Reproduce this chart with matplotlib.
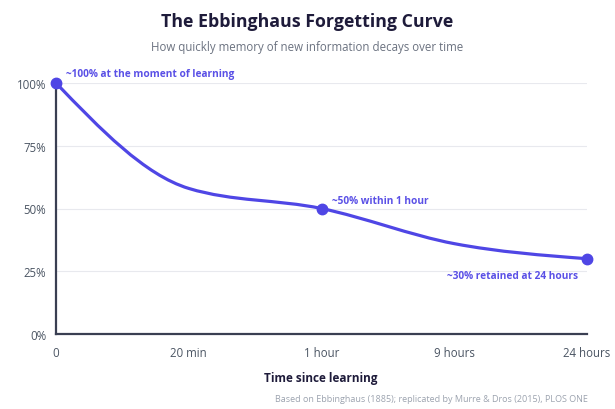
import matplotlib
matplotlib.use("Agg")
import matplotlib.pyplot as plt
import numpy as np
from matplotlib.path import Path
from matplotlib.patches import PathPatch

# data (retention %)
time_labels = ["0", "20 min", "1 hour", "9 hours", "24 hours"]
retention = [100, 58, 50, 36, 30]
marked = [0, 2, 4]  # points with a dot
notes = [
    (0, "~100% at the moment of learning", (10, 9), "left"),
    (2, "~50% within 1 hour", (10, 8), "left"),
    (4, "~30% retained at 24 hours", (-9, -17), "right"),
]

LINE = "#4f46e5"
NOTE = "#5a50e6"
DARK = "#1e1b3a"
GRAY = "#6b7280"
TICK = "#4b5563"
SPINE = "#3a3f52"


def monotone_path(x, y):
    # cubic bezier segments, monotone in x (same idea as d3 curveMonotoneX)
    x = np.asarray(x, float); y = np.asarray(y, float)
    n = len(x)
    h = np.diff(x); s = np.diff(y) / h
    t = np.zeros(n)
    for i in range(1, n - 1):
        p = (s[i - 1] * h[i] + s[i] * h[i - 1]) / (h[i - 1] + h[i])
        t[i] = (np.sign(s[i - 1]) + np.sign(s[i])) * min(abs(s[i - 1]), abs(s[i]), 0.5 * abs(p))
    t[0] = (3 * s[0] - t[1]) / 2
    t[-1] = (3 * s[-1] - t[-2]) / 2
    verts = [(x[0], y[0])]; codes = [Path.MOVETO]
    for i in range(n - 1):
        d = h[i] / 3
        verts += [(x[i] + d, y[i] + t[i] * d), (x[i + 1] - d, y[i + 1] - t[i + 1] * d), (x[i + 1], y[i + 1])]
        codes += [Path.CURVE4] * 3
    return Path(verts, codes)


plt.rcParams["font.family"] = ["Open Sans", "DejaVu Sans"]

fig = plt.figure(figsize=(6.15, 4.1), dpi=100)
fig.patch.set_facecolor("white")
ax = fig.add_axes([56 / 615, 75 / 410, 531 / 615, 251 / 410])

xs = np.arange(len(time_labels))
ax.add_patch(PathPatch(monotone_path(xs, retention), fill=False, ec=LINE, lw=2.3,
                       capstyle="round", joinstyle="round", zorder=3, clip_on=False))
ax.plot(xs[marked], np.array(retention)[marked], "o", color=LINE, ms=7.5, zorder=4, clip_on=False)

for i, txt, off, ha in notes:
    ax.annotate(txt, xy=(xs[i], retention[i]), xytext=off, textcoords="offset pixels",
                ha=ha, va="center", fontsize=7.3, fontweight="bold", color=NOTE)

ax.set_xlim(0, len(time_labels) - 1)
ax.set_ylim(0, 100)
ax.set_xticks(xs); ax.set_xticklabels(time_labels)
ax.set_yticks([0, 25, 50, 75, 100]); ax.set_yticklabels([f"{v}%" for v in [0, 25, 50, 75, 100]])
ax.tick_params(axis="x", length=0, pad=9, labelsize=8.3, labelcolor=TICK)
ax.tick_params(axis="y", length=0, pad=7, labelsize=8.3, labelcolor=TICK)
ax.grid(axis="y", color="#e8e9ee", lw=0.8, zorder=0); ax.set_axisbelow(True)
for side in ("top", "right"):
    ax.spines[side].set_visible(False)
for side in ("left", "bottom"):
    ax.spines[side].set_color(SPINE); ax.spines[side].set_linewidth(1.6)

fig.text(307 / 615, 1 - 22 / 410, "The Ebbinghaus Forgetting Curve", ha="center", va="center",
         fontsize=12.8, fontweight="bold", color=DARK)
fig.text(307 / 615, 1 - 47 / 410, "How quickly memory of new information decays over time",
         ha="center", va="center", fontsize=8.3, color=GRAY)
fig.text(321 / 615, 1 - 379 / 410, "Time since learning", ha="center", va="center",
         fontsize=8.5, fontweight="bold", color=DARK)
fig.text(588 / 615, 1 - 400 / 410, "Based on Ebbinghaus (1885); replicated by Murre & Dros (2015), PLOS ONE",
         ha="right", va="center", fontsize=6.5, color="#9ca3af")

fig.savefig("out.png", dpi=100, facecolor="white")
